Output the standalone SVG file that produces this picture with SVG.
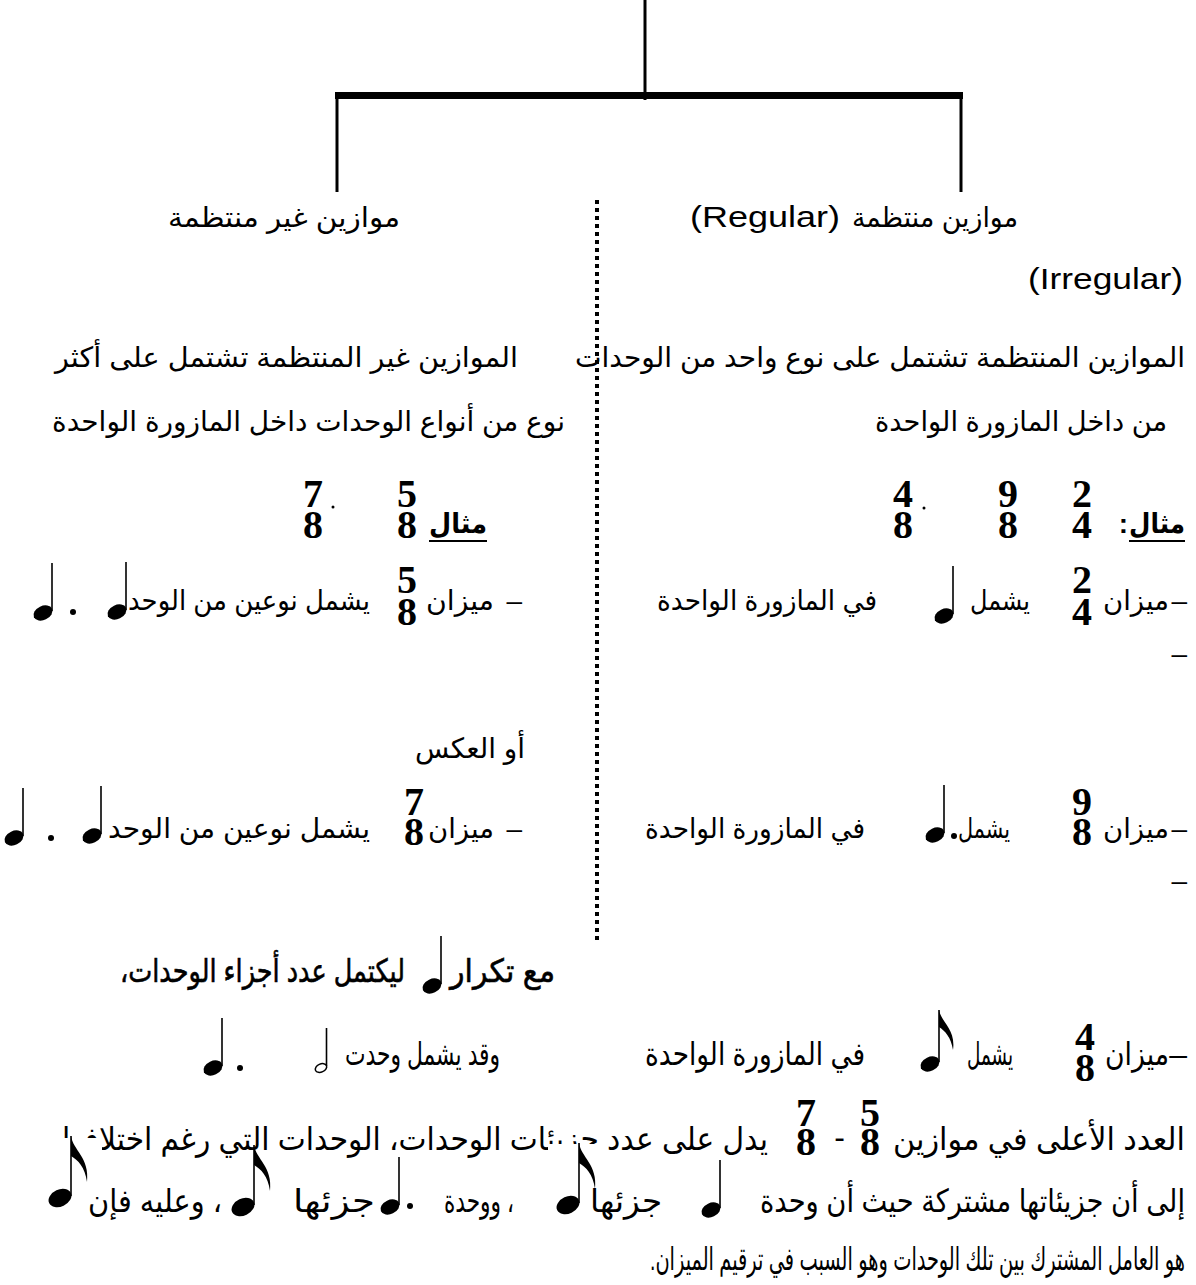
<svg xmlns="http://www.w3.org/2000/svg" width="1196" height="1285" viewBox="0 0 1196 1285">
<style>
.ar{font-family:"Liberation Sans","DejaVu Sans",sans-serif;font-size:28px;fill:#000;direction:rtl;text-anchor:start}
.tall{font-size:32px}
.lt{font-family:"Liberation Sans","DejaVu Sans",sans-serif;font-size:29px;fill:#000}
.b{font-weight:bold}
.ts{font-family:"Liberation Serif","DejaVu Serif",serif;font-weight:bold;font-size:40px;text-anchor:middle;fill:#000}
.ln{stroke:#000;stroke-width:3;fill:none}
.stem{stroke:#000;stroke-width:1.6}
.mask{fill:#fff}
</style>
<defs>
<g id="q"><ellipse cx="0" cy="0" rx="10" ry="7" transform="rotate(-25)" fill="#000"/><line class="stem" x1="9" y1="-2" x2="9" y2="-50"/></g>
<g id="e"><ellipse cx="0" cy="0" rx="10" ry="7" transform="rotate(-25)" fill="#000"/><line class="stem" x1="9" y1="-2" x2="9" y2="-54"/><path d="M9,-54 C11,-42 26,-35 23,-14 C21,-27 15,-33 9,-37 Z" fill="#000"/></g>
<g id="E"><ellipse cx="0" cy="0" rx="12" ry="8.5" transform="rotate(-25)" fill="#000"/><line class="stem" x1="11" y1="-2" x2="11" y2="-62"/><path d="M11,-62 C13,-48 30,-40 27,-16 C25,-31 18,-38 11,-42 Z" fill="#000"/></g>
<g id="h"><ellipse cx="0" cy="0" rx="6" ry="4" transform="rotate(-25)" fill="#fff" stroke="#000" stroke-width="1.5"/><line class="stem" x1="5.5" y1="-2" x2="5.5" y2="-40"/></g>
</defs>

<g id="connectors">
<line class="ln" x1="645" y1="0" x2="645" y2="100"/>
<rect x="335" y="92" width="628" height="7" fill="#000"/>
<line class="ln" x1="337" y1="95" x2="337" y2="192"/>
<line class="ln" x1="961" y1="95" x2="961" y2="192"/>
<line x1="597" y1="200" x2="597" y2="942" stroke="#000" stroke-width="4" stroke-dasharray="4 4"/>
</g>

<g id="node-regular">
<text class="ar" x="1018" y="227" textLength="166" lengthAdjust="spacingAndGlyphs">موازين منتظمة</text>
<text class="lt" x="690" y="227" textLength="150" lengthAdjust="spacingAndGlyphs">(Regular)</text>
<text class="lt" x="1028" y="289" textLength="155" lengthAdjust="spacingAndGlyphs">(Irregular)</text>
</g>

<g id="node-irregular">
<text class="ar" x="400" y="227" textLength="232" lengthAdjust="spacingAndGlyphs">موازين غير منتظمة</text>
</g>

<g id="regular-body">
<text class="ar" x="1185" y="367" textLength="610" lengthAdjust="spacingAndGlyphs">الموازين المنتظمة تشتمل على نوع واحد من الوحدات</text>
<text class="ar" x="1167" y="431" textLength="292" lengthAdjust="spacingAndGlyphs">من داخل المازورة الواحدة</text>
<text class="ar b" x="1185" y="533" textLength="56" lengthAdjust="spacingAndGlyphs">مثال</text>
<text class="ar b" x="1128" y="533">:</text>
<line x1="1129" y1="541" x2="1185" y2="541" stroke="#000" stroke-width="2"/>
<text class="ts" x="1082" y="507">2</text><text class="ts" x="1082" y="538">4</text>
<text class="ts" x="1008" y="507">9</text><text class="ts" x="1008" y="538">8</text>
<text class="ts" x="903" y="507">4</text><text class="ts" x="903" y="538">8</text>
<circle cx="924" cy="508" r="1.5" fill="#000"/>

<text class="ar" x="1187" y="610">–</text>
<text class="ar" x="1169" y="610" textLength="66" lengthAdjust="spacingAndGlyphs">ميزان</text>
<text class="ts" x="1082" y="593">2</text><text class="ts" x="1082" y="625">4</text>
<text class="ar" x="1030" y="610" textLength="60" lengthAdjust="spacingAndGlyphs">يشمل</text>
<use href="#q" x="944" y="616"/>
<text class="ar" x="877" y="610" textLength="220" lengthAdjust="spacingAndGlyphs">في المازورة الواحدة</text>
<text class="ar" x="1187" y="663">–</text>

<text class="ar" x="1187" y="838">–</text>
<text class="ar" x="1169" y="838" textLength="66" lengthAdjust="spacingAndGlyphs">ميزان</text>
<text class="ts" x="1082" y="815">9</text><text class="ts" x="1082" y="845">8</text>
<text class="ar" x="1010" y="838" textLength="52" lengthAdjust="spacingAndGlyphs">يشمل</text>
<circle cx="954" cy="836" r="3" fill="#000"/>
<use href="#q" x="935" y="835"/>
<text class="ar" x="865" y="838" textLength="220" lengthAdjust="spacingAndGlyphs">في المازورة الواحدة</text>
<text class="ar" x="1187" y="890">–</text>

<text class="ar tall" x="1187" y="1065">–</text>
<text class="ar tall" x="1169" y="1065" textLength="64" lengthAdjust="spacingAndGlyphs">ميزان</text>
<text class="ts" x="1085" y="1050">4</text><text class="ts" x="1085" y="1081">8</text>
<text class="ar tall" x="1013" y="1065" textLength="46" lengthAdjust="spacingAndGlyphs">يشمل</text>
<use href="#e" x="930" y="1064"/>
<text class="ar tall" x="865" y="1065" textLength="220" lengthAdjust="spacingAndGlyphs">في المازورة الواحدة</text>
</g>

<g id="irregular-body">
<text class="ar" x="518" y="367" textLength="463" lengthAdjust="spacingAndGlyphs">الموازين غير المنتظمة تشتمل على أكثر</text>
<text class="ar" x="565" y="431" textLength="513" lengthAdjust="spacingAndGlyphs">نوع من أنواع الوحدات داخل المازورة الواحدة</text>
<text class="ar b" x="487" y="533" textLength="58" lengthAdjust="spacingAndGlyphs">مثال</text>
<line x1="429" y1="541" x2="487" y2="541" stroke="#000" stroke-width="2"/>
<text class="ts" x="407" y="507">5</text><text class="ts" x="407" y="538">8</text>
<text class="ts" x="313" y="507">7</text><text class="ts" x="313" y="538">8</text>
<circle cx="333" cy="507" r="1.5" fill="#000"/>

<text class="ar" x="522" y="610">–</text>
<text class="ar" x="494" y="610" textLength="68" lengthAdjust="spacingAndGlyphs">ميزان</text>
<text class="ts" x="407" y="593">5</text><text class="ts" x="407" y="625">8</text>
<text class="ar" x="370" y="610" textLength="242" lengthAdjust="spacingAndGlyphs">يشمل نوعين من الوحد</text>
<use href="#q" x="117" y="612"/>
<circle cx="73" cy="612" r="3" fill="#000"/>
<use href="#q" x="43" y="613"/>

<text class="ar" x="525" y="758" textLength="110" lengthAdjust="spacingAndGlyphs">أو العكس</text>
<text class="ar" x="522" y="838">–</text>
<text class="ar" x="494" y="838" textLength="66" lengthAdjust="spacingAndGlyphs">ميزان</text>
<text class="ts" x="414" y="815">7</text><text class="ts" x="414" y="845">8</text>
<text class="ar" x="370" y="838" textLength="262" lengthAdjust="spacingAndGlyphs">يشمل نوعين من الوحد</text>
<use href="#q" x="92" y="836"/>
<circle cx="51" cy="838" r="3" fill="#000"/>
<use href="#q" x="14" y="838"/>

<text class="ar tall" x="555" y="982" textLength="105" lengthAdjust="spacingAndGlyphs" stroke="#000" stroke-width="0.6">مع تكرار</text>
<use href="#q" x="432" y="986"/>
<text class="ar tall" x="405" y="982" textLength="285" lengthAdjust="spacingAndGlyphs" stroke="#000" stroke-width="0.6">ليكتمل عدد أجزاء الوحدات،</text>

<text class="ar tall" x="500" y="1065" textLength="155" lengthAdjust="spacingAndGlyphs">وقد يشمل وحدت</text>
<use href="#h" x="321" y="1068"/>
<circle cx="240" cy="1068" r="3" fill="#000"/>
<use href="#q" x="213" y="1068"/>
</g>

<g id="footer">
<text class="ar tall" x="1185" y="1150" textLength="292" lengthAdjust="spacingAndGlyphs">العدد الأعلى في موازين</text>
<text class="ts" x="870" y="1126">5</text><text class="ts" x="870" y="1155">8</text>
<text class="ar tall" x="845" y="1148">-</text>
<text class="ts" x="806" y="1126">7</text><text class="ts" x="806" y="1155">8</text>
<text class="ar tall" x="768" y="1150" textLength="706" lengthAdjust="spacingAndGlyphs">يدل على عدد جزيئات الوحدات، الوحدات التي رغم اختلافها</text>

<rect class="mask" x="548" y="1144" width="50" height="70"/>
<rect class="mask" x="40" y="1138" width="62" height="74"/>

<text class="ar tall" x="1185" y="1212" textLength="425" lengthAdjust="spacingAndGlyphs">إلى أن جزيئاتها مشتركة حيث أن وحدة</text>
<use href="#q" x="711" y="1210"/>
<text class="ar tall" x="662" y="1212" textLength="72" lengthAdjust="spacingAndGlyphs">جزئها</text>
<use href="#E" x="568" y="1205"/>
<text class="ar tall" x="514" y="1212" textLength="70" lengthAdjust="spacingAndGlyphs">، ووحدة</text>
<circle cx="410" cy="1206" r="3" fill="#000"/>
<use href="#q" x="390" y="1207"/>
<text class="ar tall" x="375" y="1212" textLength="82" lengthAdjust="spacingAndGlyphs">جزئها</text>
<use href="#E" x="243" y="1207"/>
<text class="ar tall" x="222" y="1212" textLength="134" lengthAdjust="spacingAndGlyphs">، وعليه فإن</text>
<use href="#E" x="60" y="1198"/>

<text class="ar tall" x="1185" y="1270" textLength="535" lengthAdjust="spacingAndGlyphs">هو العامل المشترك بين تلك الوحدات وهو السبب في ترقيم الميزان.</text>
</g>
</svg>
